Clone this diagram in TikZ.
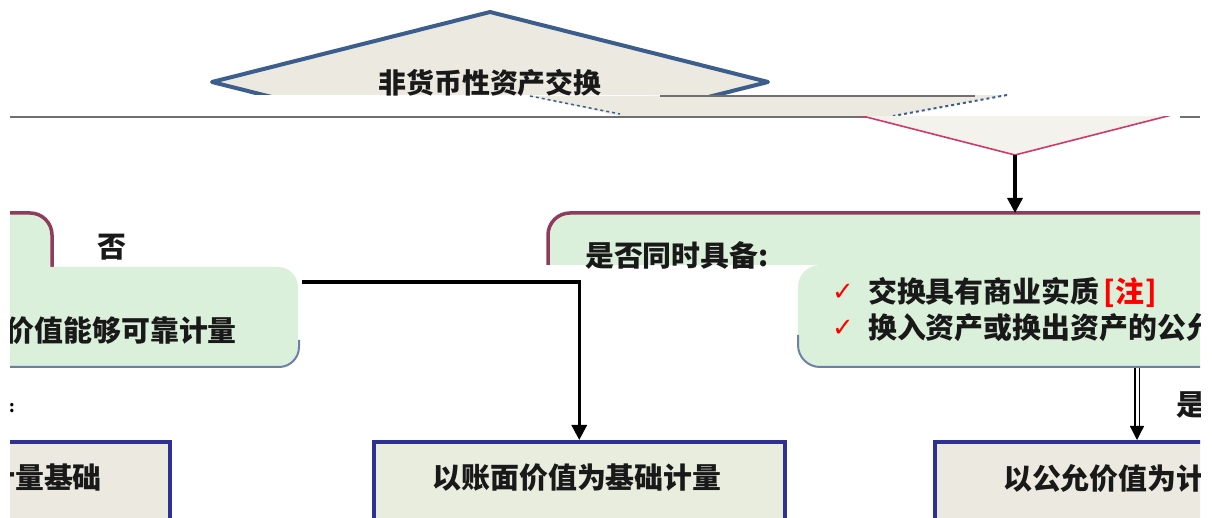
\documentclass[tikz,border=0pt]{standalone}
\usepackage{fontspec}
\setmainfont{Noto Sans CJK SC}
\newfontfamily\dvfont{DejaVu Sans}
\usetikzlibrary{arrows.meta}
\definecolor{beige}{HTML}{ECEAE0}
\definecolor{beigeg}{HTML}{E9EDDD}
\definecolor{dblue}{HTML}{3B5E8C}
\definecolor{maroonb}{HTML}{8E3B5E}
\definecolor{lgreen}{HTML}{DBF0DA}
\definecolor{navyb}{HTML}{2E3192}
\definecolor{pinkred}{HTML}{D0386A}
\definecolor{bgray}{HTML}{6F80A8}
\definecolor{lgray}{HTML}{707070}
\begin{document}
\begin{tikzpicture}[x=1bp,y=-1bp,
  txt/.style={font=\fontsize{29}{33}\selectfont\bfseries, inner sep=0pt, text=black!90},
  ttl/.style={font=\fontsize{28}{32}\selectfont\bfseries, inner sep=0pt, text=black!90},
  botbox/.style={draw=navyb, line width=3.5bp, minimum height=82bp, anchor=north west},
  conn/.style={line width=3.2bp, -{Triangle[length=15bp,width=15bp]}},
  chk/.style={text=red, font=\dvfont\fontsize{26}{30}\selectfont, inner sep=0pt}]
\useasboundingbox (0,0) rectangle (1212,518);
\begin{scope}
\clip (10,0) rectangle (1200,518);
% top diamond, upper part
\begin{scope}
\clip (0,0) rectangle (1212,95);
\draw[dblue, line width=4bp, fill=beige, line join=round] (490,12) -- (768,82) -- (490,152) -- (212,82) -- cycle;
\end{scope}
\begin{scope}
\clip (0,0) rectangle (1212,97);
\node[ttl] (title) at (490,83) {非货币性资产交换};
\end{scope}
% glitch strip
\fill[beige] (530,96) -- (1007,95) -- (893,116) -- (620,116) -- cycle;
\draw[lgray, line width=2bp] (660,96) -- (975,96);
\draw[dblue, line width=2bp, dashed] (1007,95) -- (893,116);
\draw[dblue, line width=1.5bp, dashed] (530,96) -- (620,114);
% horizontal rule
\draw[lgray, line width=2.2bp] (10,117) -- (893,117);
\draw[lgray, line width=2.2bp] (1180,117) -- (1200,117);
% lower half of diamond (shifted)
\begin{scope}
\clip (0,117) rectangle (1212,200);
\draw[pinkred, line width=1.6bp, fill=beige!60!white, line join=round] (1015,13) -- (1293,84) -- (1015,155) -- (737,84) -- cycle;
\end{scope}
\coordinate (dbot) at (1015,155);
% right green box
\begin{scope}
\clip (0,200) rectangle (1212,265);
\draw[maroonb, line width=3.5bp, fill=lgreen, rounded corners=22bp] (548,213) rectangle (1260,380);
\end{scope}
\fill[lgreen, rounded corners=22bp] (798,265) rectangle (1260,367);
\draw[bgray, line width=2bp, rounded corners=22bp] (798,335) -- (798,367) -- (1210,367);
\coordinate (rtop) at (1015,213);
\coordinate (rbotm) at (1137,368);
\node[txt, anchor=west] (q) at (585,255) {是否同时具备:};
\node[chk] (c1) at (843,292) {✓};
\node[chk] (c2) at (843,328) {✓};
\node[txt, anchor=west] (i1) at (868,292) {交换具有商业实质\hspace{4bp}\textcolor{red}{[\hspace{1bp}注\hspace{1bp}]}};
\node[txt, anchor=west] (i2) at (868,328) {换入资产或换出资产的公允价值能够可靠计量};
% left green box
\begin{scope}
\clip (0,200) rectangle (80,267);
\draw[maroonb, line width=3.5bp, fill=lgreen, rounded corners=22bp] (-200,213) rectangle (52,400);
\end{scope}
\fill[lgreen, rounded corners=20bp] (-20,267) rectangle (298,367);
\draw[bgray, line width=2bp, rounded corners=20bp] (299,340) -- (299,367) -- (0,367);
\node[txt, anchor=east] (lt) at (237,330) {公允价值能够可靠计量};
\coordinate (lstart) at (302,282);
\node[txt] (no) at (112,247) {否};
\node[txt] (yes) at (1191,405) {是};
\node[font=\bfseries\fontsize{16}{18}\selectfont, inner sep=0pt] (colon) at (12,408) {:};
% bottom boxes
\node[botbox, fill=beige, minimum width=320bp] (lb) at (-152,440) {};
\node[botbox, fill=beigeg, minimum width=411bp] (mb) at (372,440) {};
\node[botbox, fill=beige, minimum width=420bp] (rb) at (933,440) {};
\node[txt, anchor=east] at (102,478) {计量基础};
\node[txt] at (577,478) {以账面价值为基础计量};
\node[txt, anchor=west] at (1003,478) {以公允价值为计量基础};
% connectors
\draw[conn] (dbot) -- (rtop);
\draw[conn] (lstart) -| (mb.north);
\draw[line width=1.3bp, double, double distance=3bp, -{Triangle[length=14bp,width=14bp]}] (rbotm) -- (rb.north -| rbotm);
\end{scope}
\end{tikzpicture}
\end{document}
